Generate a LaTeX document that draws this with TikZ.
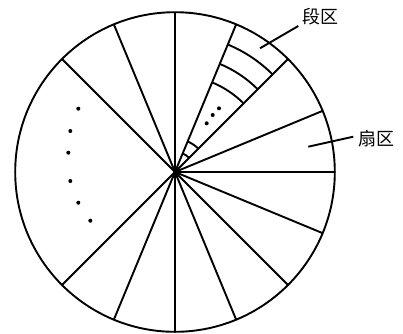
\documentclass[tikz,border=0pt]{standalone}
\usepackage{fontspec}
\newfontfamily\cjk{Noto Sans CJK SC}
\begin{document}
\begin{tikzpicture}[x=1pt,y=1pt,
  ln/.style={line width=1.9pt},
  dotmark/.style={fill=black},
  lbl/.style={font=\cjk\fontsize{18}{18}\selectfont, inner sep=0pt}]
\useasboundingbox (-175,-161) rectangle (228,172);
\coordinate (O) at (0,0);
\draw[ln] (O) circle (159.8);
\foreach \a in {0,22.5,45,67.5,90,112.5,135,225,247.5,270,292.5,315,337.5}
  \draw[ln] (O) -- (\a:159.8);
\foreach \r in {20,33,97,117,138}
  \draw[ln] (45:\r) arc[start angle=45,end angle=67.5,radius=\r];
\foreach \p in {(31.7,48.7),(37.7,57),(44,63.7)}
  \fill[dotmark] \p circle (2);
\foreach \p in {(-96.7,63.3),(-104.7,41),(-106.7,19.3),(-104.7,-9),(-96.7,-30.7),(-84.7,-48.7)}
  \fill[dotmark] \p circle (2);
\node[lbl] (dq) at (145,155.3) {段区};
\node[lbl] (sq) at (201,33.5) {扇区};
\coordinate (dqa) at (85,123.7);
\coordinate (dqb) at (123.3,146);
\coordinate (sqa) at (133.3,25.3);
\coordinate (sqb) at (178.3,35.3);
\draw[ln] (dqa) -- (dqb);
\draw[ln] (sqa) -- (sqb);
\end{tikzpicture}
\end{document}
